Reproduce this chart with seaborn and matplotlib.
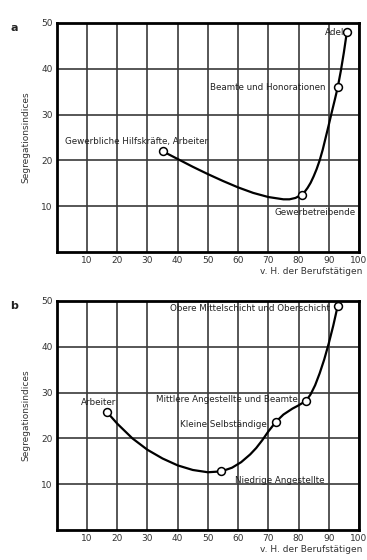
import seaborn as sns
import pandas as pd
import matplotlib.pyplot as plt

sns.set_style("white")
plt.rcParams['font.family'] = ['Liberation Sans Narrow', 'DejaVu Sans']

# panel a: marked groups
a_groups = ["Gewerbliche Hilfskräfte, Arbeiter", "Gewerbetreibende",
            "Beamte und Honorationen", "Adel"]
a_x = [35, 81, 93, 96]
a_y = [22, 12.5, 36, 48]
# panel a: curve
a_curve_x = [35, 40, 45, 50, 55, 60, 65, 70, 73, 75, 77, 79, 81, 82, 83, 84, 85, 86, 87, 88, 89,
             90, 91, 92, 93, 94, 95, 96]
a_curve_y = [22, 20.3, 18.6, 17.0, 15.5, 14.1, 12.9, 12.0, 11.7, 11.5, 11.5, 11.8, 12.5, 13.1,
             14.0, 15.1, 16.5, 18.1, 20.0, 22.3, 25.0, 27.7, 30.5, 33.2, 36, 39.5, 43.5, 48]

# panel b: marked groups
b_groups = ["Arbeiter", "Niedrige Angestellte", "Kleine Selbständige",
            "Mittlere Angestellte und Beamte", "Obere Mittelschicht und Oberschicht"]
b_x = [16.5, 54.5, 72.5, 82.5, 93]
b_y = [25.8, 12.8, 23.6, 28.2, 49]
b_curve_x = [16.5, 20, 25, 30, 35, 40, 45, 50, 54.5, 58, 61, 64, 66, 68, 70, 72.5, 75, 78, 80,
             82.5, 84, 85.5, 87, 88.5, 90, 91.5, 93]
b_curve_y = [25.8, 23.2, 20.0, 17.5, 15.6, 14.1, 13.1, 12.6, 12.8, 13.6, 14.8, 16.5, 17.9,
             19.6, 21.5, 23.6, 25.2, 26.5, 27.2, 28.2, 29.6, 31.6, 34.2, 37.2, 40.7, 44.6, 49]

ticks_x = [10, 20, 30, 40, 50, 60, 70, 80, 90, 100]
ticks_y = [10, 20, 30, 40, 50]

fig = plt.figure(figsize=(3.67, 5.6), dpi=100)
ax_a = fig.add_axes([0.155, 0.55, 0.823, 0.409])
ax_b = fig.add_axes([0.155, 0.0536, 0.823, 0.409])


def panel(ax, letter, cx, cy, px, py, labels):
    ax.set_xlim(0, 100)
    ax.set_ylim(0, 50)
    for t in ticks_x:
        ax.axvline(t, color="#3a3a3a", lw=1.2, zorder=1)
    for t in ticks_y:
        ax.axhline(t, color="#3a3a3a", lw=1.2, zorder=1)
    sns.lineplot(x=cx, y=cy, ax=ax, color="black", lw=1.6, sort=False, zorder=3,
                 solid_joinstyle="round", solid_capstyle="round")
    sns.scatterplot(x=px, y=py, ax=ax, s=32, color="white", edgecolor="black",
                    linewidth=1.1, zorder=4, clip_on=False)
    ax.set_xticks(ticks_x)
    ax.set_yticks(ticks_y)
    ax.set_xticklabels([str(t) for t in ticks_x], fontsize=6.5, color="#333333")
    ax.set_yticklabels([str(t) for t in ticks_y], fontsize=6.5, color="#333333")
    ax.tick_params(length=0, pad=3)
    for s in ax.spines.values():
        s.set_linewidth(2.0)
        s.set_color("black")
        s.set_visible(True)
    ax.set_ylabel("Segregationsindices", fontsize=6.5, color="#333333", labelpad=8)
    ax.set_xlabel("v. H. der Berufstätigen", fontsize=6.5, color="#333333", labelpad=1)
    ax.xaxis.set_label_coords(1.01, -0.065)
    ax.xaxis.label.set_ha("right")
    ax.text(-0.13, 1.0, letter, transform=ax.transAxes, fontsize=8, fontweight="bold",
            ha="right", va="top", color="#222222")
    for txt, x, y, ha in labels:
        ax.text(x, y, txt, fontsize=6.3, ha=ha, va="center", color="#222222", zorder=5)


panel(ax_a, "a", a_curve_x, a_curve_y, a_x, a_y, [
    (a_groups[0], 2.7, 24.1, "left"),
    (a_groups[1], 72, 8.7, "left"),
    (a_groups[2], 89, 36, "right"),
    (a_groups[3], 95, 48.0, "right"),
])
panel(ax_b, "b", b_curve_x, b_curve_y, b_x, b_y, [
    (b_groups[0], 8, 27.8, "left"),
    (b_groups[1], 59, 10.9, "left"),
    (b_groups[2], 69.4, 23.1, "right"),
    (b_groups[3], 79.7, 28.5, "right"),
    (b_groups[4], 90.4, 48.4, "right"),
])

fig.savefig("out.png", dpi=100)
